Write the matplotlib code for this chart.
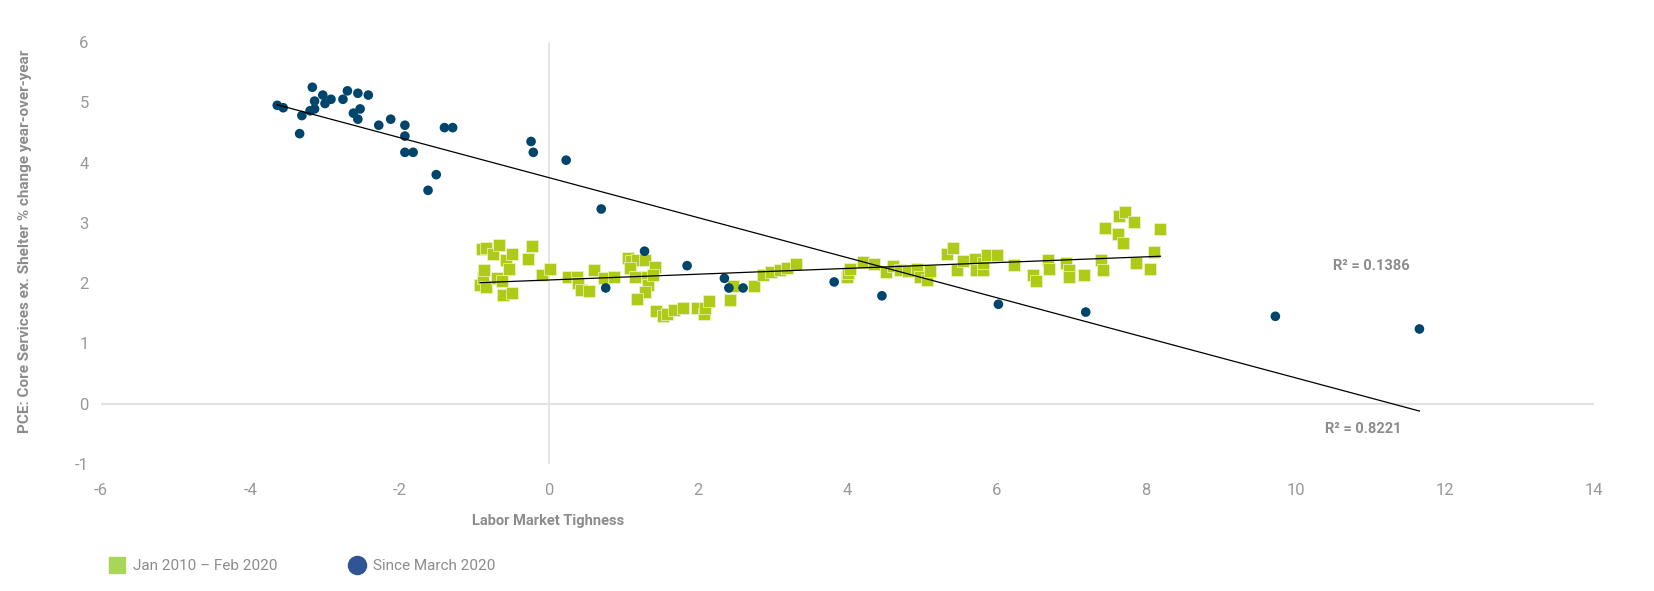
import numpy as np
import matplotlib.pyplot as plt
from matplotlib.lines import Line2D

plt.rcParams['font.family'] = ['Roboto', 'DejaVu Sans']
plt.rcParams['axes.unicode_minus'] = False

# Since March 2020 (labor market tightness, core services ex. shelter yoy %)
blue_x = [-3.64, -3.56, -3.17, -3.03, -3.14, -3.00, -2.92, -3.31, -3.20, -3.14,
          -3.34, -2.70, -2.76, -2.56, -2.42, -2.62, -2.53, -2.56, -2.28, -2.12,
          -1.93, -1.93, -1.93, -1.82, -1.51, -1.62, -1.40, -1.29, -0.24, -0.21,
          0.23, 0.70, 0.76, 1.28, 1.85, 2.35, 2.41, 2.60, 3.82, 4.46,
          6.02, 7.19, 9.73, 11.66]
blue_y = [4.95, 4.91, 5.25, 5.12, 5.02, 4.98, 5.05, 4.78, 4.86, 4.89,
          4.48, 5.19, 5.05, 5.15, 5.12, 4.82, 4.89, 4.72, 4.62, 4.72,
          4.62, 4.44, 4.17, 4.17, 3.80, 3.54, 4.58, 4.58, 4.35, 4.17,
          4.04, 3.23, 1.92, 2.53, 2.29, 2.08, 1.92, 1.92, 2.02, 1.79,
          1.65, 1.52, 1.45, 1.24]

# Jan 2010 - Feb 2020
green_x = [-0.92, -0.88, -0.87, -0.90, -0.84, -0.84, -0.75, -0.70, -0.67, -0.63,
           -0.62, -0.58, -0.53, -0.50, -0.49, -0.28, -0.23, -0.10, 0.01,
           0.26, 0.37, 0.39, 0.43, 0.54, 0.60, 0.74, 0.87,
           1.06, 1.10, 1.18, 1.29, 1.09, 1.42, 1.15, 1.31, 1.33, 1.29, 1.18, 1.40,
           1.44, 1.53, 1.58, 1.67, 1.80, 1.98, 2.07, 2.09, 2.15,
           2.43, 2.47, 2.74,
           2.87, 2.98, 3.09, 3.19, 3.31,
           3.99, 4.01, 4.03, 4.21, 4.35, 4.52, 4.61, 4.70, 4.81, 4.93, 4.97, 5.06, 5.10,
           5.33, 5.41, 5.46, 5.54, 5.71, 5.72, 5.81, 5.82, 5.87, 6.00, 6.23, 6.49,
           6.53, 6.68, 6.70, 6.93, 6.96, 6.96, 7.17, 7.40, 7.42, 7.45, 7.64, 7.72,
           7.84, 7.62, 7.69, 7.86, 8.05, 8.11, 8.19]
green_y = [1.97, 2.08, 2.22, 2.57, 2.59, 1.94, 2.48, 2.08, 2.64, 2.03,
           1.81, 2.38, 2.24, 1.84, 2.48, 2.40, 2.61, 2.14, 2.24,
           2.11, 2.11, 2.00, 1.89, 1.87, 2.21, 2.08, 2.11,
           2.42, 2.36, 2.39, 2.39, 2.25, 2.26, 2.11, 2.11, 1.97, 1.86, 1.74, 2.14,
           1.53, 1.45, 1.49, 1.56, 1.59, 1.59, 1.49, 1.59, 1.70,
           1.72, 1.95, 1.95,
           2.14, 2.19, 2.22, 2.25, 2.32,
           2.11, 2.17, 2.24, 2.35, 2.32, 2.19, 2.28, 2.22, 2.20, 2.24, 2.11, 2.06, 2.20,
           2.48, 2.59, 2.21, 2.37, 2.40, 2.22, 2.22, 2.33, 2.47, 2.47, 2.30, 2.14,
           2.04, 2.38, 2.24, 2.33, 2.21, 2.11, 2.14, 2.38, 2.21, 2.92, 3.11, 3.18,
           3.01, 2.81, 2.67, 2.34, 2.24, 2.51, 2.90]

r2_labels = ['R² = 0.1386', 'R² = 0.8221']
legend_labels = ['Jan 2010 – Feb 2020', 'Since March 2020']

green = '#AFCA17'
blue = '#00456B'
grey = '#8C8C8C'

fig = plt.figure(figsize=(16.54, 5.91), dpi=100)
ax = fig.add_axes([0.0611, 0.2149, 0.9027, 0.714])

ax.axhline(0, color='#E2E2E2', lw=1.6, zorder=0)
ax.axvline(0, color='#E2E2E2', lw=1.2, zorder=0)

ax.scatter(green_x, green_y, marker='s', s=64, color=green,
           edgecolors='#EEF4CF', linewidths=0.5, zorder=2)
ax.scatter(blue_x, blue_y, marker='o', s=48, color=blue,
           edgecolors='none', zorder=3)

# linear trend lines
for xs, ys in [(green_x, green_y), (blue_x, blue_y)]:
    xs = np.array(xs)
    k, b = np.polyfit(xs, ys, 1)
    xx = np.array([xs.min(), xs.max()])
    ax.plot(xx, k * xx + b, color='black', lw=0.9, zorder=4)

ax.text(11.02, 2.29, r2_labels[0], color=grey, fontsize=10.5,
        fontweight='bold', ha='center', va='center')
ax.text(10.91, -0.42, r2_labels[1], color=grey, fontsize=10.5,
        fontweight='bold', ha='center', va='center')

ax.set_xlim(-6, 14)
ax.set_ylim(-1, 6)
ax.set_xticks(range(-6, 15, 2))
ax.set_yticks(range(-1, 7))
ax.tick_params(length=0, labelsize=12, labelcolor='#999999')
ax.tick_params(axis='x', pad=14)
ax.tick_params(axis='y', pad=9)
for s in ax.spines.values():
    s.set_visible(False)

fig.text(548 / 1654, 1 - 521 / 591, 'Labor Market Tighness', color=grey,
         fontsize=10.5, fontweight='bold', ha='center', va='center')
fig.text(25 / 1654, 1 - 241 / 591,
         'PCE: Core Services ex. Shelter % change year-over-year',
         color=grey, fontsize=11, fontweight='bold', rotation=90,
         ha='center', va='center')

handles = [Line2D([], [], ls='', marker='s', ms=12, color='#A8D65B'),
           Line2D([], [], ls='', marker='o', ms=13, color='#2F5597')]
fig.legend(handles, legend_labels, loc='center left',
           bbox_to_anchor=(94 / 1654, 1 - 566 / 591), ncol=2, frameon=False,
           fontsize=11, labelcolor='#8C8C8C', handletextpad=0.45,
           columnspacing=4.6, handlelength=1.2)

fig.savefig('out.png', dpi=100)
